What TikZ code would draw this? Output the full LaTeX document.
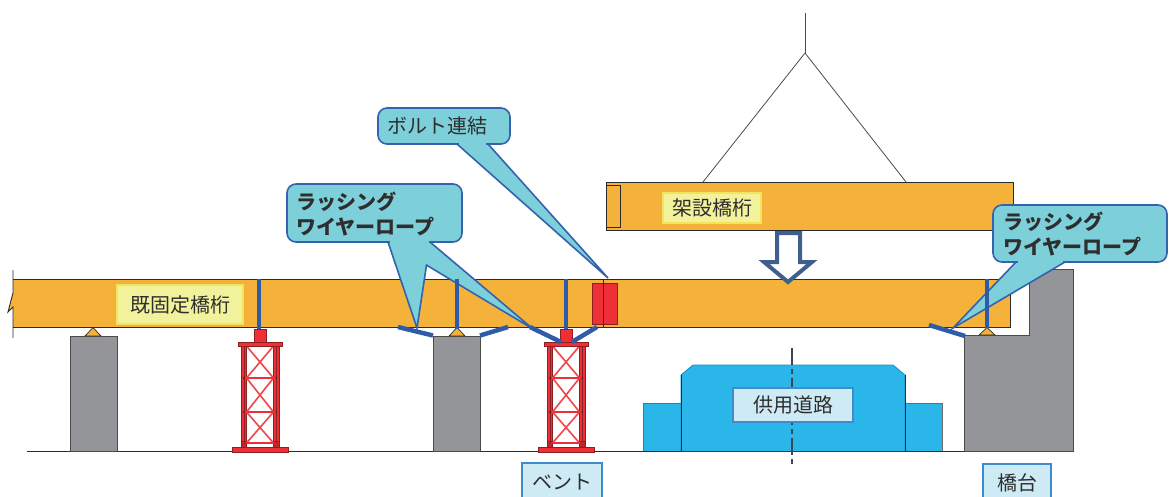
\documentclass[tikz,border=0pt]{standalone}
\usepackage{fontspec}
\newfontfamily\jp{Noto Sans CJK JP}
\usetikzlibrary{calc}

\definecolor{girder}{HTML}{F4B23B}
\definecolor{pier}{HTML}{939598}
\definecolor{outline}{HTML}{2B2B2B}
\definecolor{bentred}{HTML}{EE3036}
\definecolor{bentdark}{HTML}{8E1E22}
\definecolor{rod}{HTML}{2F5CA9}
\definecolor{callfill}{HTML}{7DCFDA}
\definecolor{callline}{HTML}{3462AE}
\definecolor{road}{HTML}{2AB6E9}
\definecolor{roadedge}{HTML}{1B8CC0}
\definecolor{tagyellow}{HTML}{F2F19C}
\definecolor{tagyellowline}{HTML}{F4E45A}
\definecolor{tagblue}{HTML}{CEEBF5}
\definecolor{tagblueline}{HTML}{3F8BCB}
\definecolor{arrowblue}{HTML}{3F5F8C}
\definecolor{textgray}{HTML}{2E2E2E}
\definecolor{axisline}{HTML}{3A4656}

\tikzset{
  member/.style={draw=outline, line width=0.9pt},
  girderbody/.style={member, fill=girder},
  concrete/.style={draw=outline!85, line width=0.9pt, fill=pier},
  bearing/.style={draw=outline, line width=0.7pt, fill=girder},
  rodline/.style={draw=rod, line width=4.5pt},
  callbox/.style={draw=callline, line width=1.6pt, fill=callfill, rounded corners=9pt},
  calledge/.style={draw=callline, line width=1.6pt, line join=miter},
  calltext/.style={font=\jp\bfseries\fontsize{20}{25}\selectfont, text=textgray, align=left, inner sep=0pt},
  plaintext/.style={font=\jp\fontsize{20}{25}\selectfont, text=textgray, inner sep=0pt},
  yellowtag/.style={plaintext, draw=tagyellowline, line width=1.5pt, fill=tagyellow},
  bluetag/.style={plaintext, draw=tagblueline, line width=1.5pt, fill=tagblue},
  bar/.style={draw=bentred, line width=2.4pt},
  brace/.style={draw=bentred!90!white, line width=1.6pt},
  bent/.pic={
    % columns
    \foreach \s in {-1,1} {
      \draw[draw=bentdark, line width=0.6pt, fill=bentred] (\s*13.5,346) rectangle (\s*19,447);
      \draw[bentdark, line width=0.4pt] (\s*16.2,346) -- (\s*16.2,441);
      \draw[draw=bentdark, line width=0.5pt, fill=bentred!80!black] (\s*13.5,441) rectangle (\s*19,447);
    }
    % horizontal bars and X bracing
    \foreach \ya/\yb in {346/378, 378/412, 412/443} {
      \draw[brace] (-13.5,\ya) -- (13.5,\yb);
      \draw[brace] (13.5,\ya) -- (-13.5,\yb);
    }
    \foreach \y in {378,412,443} \draw[bar] (-13.5,\y) -- (13.5,\y);
    \foreach \y in {378,412} \foreach \s in {-1,1} \fill[outline] (\s*16.2,\y) circle (0.9);
    % cap block, top plate and base plate
    \draw[draw=bentdark, line width=0.6pt, fill=bentred] (-6,329) rectangle (6,342);
    \draw[draw=bentdark, line width=0.6pt, fill=bentred] (-22,342) rectangle (22,346);
    \draw[draw=bentdark, line width=0.6pt, fill=bentred] (-28,447) rectangle (28,452);
  }
}

\begin{document}
\begin{tikzpicture}[x=1pt, y=-1pt]
\useasboundingbox (0,0) rectangle (1169,496);

% ground line
\coordinate (g0) at (27,451);
\coordinate (g1) at (1073,451);
\draw[outline, line width=1pt] (g0) -- (g1);

% piers
\draw[concrete] (70,336) rectangle (117,451);
\draw[concrete] (433,336) rectangle (480,451);

% abutment
\draw[concrete] (964,335) -- (1029,335) -- (1029,269) -- (1073,269) -- (1073,451) -- (964,451) -- cycle;

% road in service
\draw[draw=outline!70, line width=0.8pt, fill=road] (643,451) -- (643,403) -- (681,403) -- (681,451);
\draw[draw=outline!70, line width=0.8pt, fill=road] (942,451) -- (942,403) -- (905,403) -- (905,451);
\draw[draw=roadedge, line width=0.8pt, fill=road] (681,451) -- (681,375) -- (693,365) -- (893,365) -- (905,375) -- (905,451);
\draw[outline, line width=1pt] (681,375) -- (681,451) (905,375) -- (905,451);
\draw[draw=axisline, line width=2pt, dash pattern=on 17pt off 4pt on 5pt off 4pt] (792,348) -- (792,465);
\node[bluetag, minimum width=120pt, minimum height=34pt] (road) at (793,405) {供用道路};

% bents
\pic at (260,0) {bent};
\pic at (566,0) {bent};

% bearings
\draw[bearing] (85,336) -- (93,327.5) -- (101,336) -- cycle;
\draw[bearing] (449,336) -- (457,327.5) -- (465,336) -- cycle;
\draw[bearing] (979,335) -- (987,327.5) -- (995,335) -- cycle;

% existing girder with break line
\fill[girder] (13,279) -- (1010,279) -- (1010,327) -- (13,327) -- (13,307) -- (8,312) -- (13,293) -- cycle;
\draw[member] (13,279) -- (1010,279) -- (1010,327) -- (13,327);
\draw[outline, line width=0.9pt] (13,270) -- (13,293) -- (8,312) -- (13,307) -- (13,338);
\node[yellowtag, minimum width=126pt, minimum height=39pt] (fixed) at (180,304.5) {既固定橋桁};

% bolted splice
\draw[draw=bentdark, line width=0.8pt, fill=bentred] (592,283) rectangle (617,324);
\draw[outline, line width=0.8pt] (603,279) -- (603,327);

% girder being erected and its slings
\draw[girderbody] (606,182) rectangle (1013,230);
\draw[member] (606,185) rectangle (620,227);
\node[yellowtag, minimum width=98pt, minimum height=30pt] (new) at (712,208) {架設橋桁};
\coordinate (hook) at (805,13);
\coordinate (sling) at (805,53);
\coordinate (lift1) at (703,182);
\coordinate (lift2) at (906,182);
\draw[outline!85, line width=1pt] (hook) -- (sling);
\draw[outline!85, line width=0.8pt] (lift1) -- (sling) -- (lift2);

% lowering arrow
\draw[draw=arrowblue, fill=white, line width=4pt, line join=miter]
  (777,233) -- (800,233) -- (800,262) -- (812,262) -- (788,282) -- (764,262) -- (777,262) -- cycle;

% callout: bolted splice
\fill[callfill] (457,144) -- (608,278) -- (488,144) -- cycle;
\draw[callbox] (378,108) rectangle (510,144);
\fill[callfill] (459,141) rectangle (486,146);
\draw[calledge] (457,144) -- (608,278) -- (488,144);
\node[plaintext, anchor=west] (bolt) at (387,126) {ボルト連結};

% callout: lashing wire rope (left)
\fill[callfill] (388,242) -- (417,328) -- (426.5,265.1) -- (533,329) -- (430,242) -- cycle;
\draw[callbox] (287,184) rectangle (462,242);
\fill[callfill] (389.5,239) rectangle (428.5,244);
\draw[calledge] (388,242) -- (417,328) -- (426.5,265.1) -- (533,329) -- (430,242);
\node[calltext, anchor=west] (lashL) at (296,214) {ラッシング\\ワイヤーロープ};

% callout: lashing wire rope (right)
\fill[callfill] (1016,262) -- (953,328) -- (1065,262) -- cycle;
\draw[callbox] (993,205) rectangle (1167,262);
\fill[callfill] (1018,259) rectangle (1063,264);
\draw[calledge] (1016,262) -- (953,328) -- (1065,262);
\node[calltext, anchor=west] (lashR) at (1003,233.5) {ラッシング\\ワイヤーロープ};

% hanger rods
\draw[rodline] (259,279) -- (259,329);
\draw[rodline] (457,279) -- (457,329);
\draw[rodline] (566,279) -- (566,329);
\draw[rodline] (987,279) -- (987,328);

% lashing wires
\draw[rodline] (398,327) -- (433,335.5);
\draw[rodline] (480,335.5) -- (508,327);
\draw[rodline] (530,327) -- (561,342);
\draw[rodline] (597,327) -- (572,342);
\draw[rodline] (929,325) -- (965,336);

% bottom labels
\node[bluetag, minimum width=80pt, minimum height=38pt] (bentlabel) at (562,482) {ベント};
\node[bluetag, minimum width=68pt, minimum height=38pt] (abutlabel) at (1017,483) {橋台};
\end{tikzpicture}
\end{document}
